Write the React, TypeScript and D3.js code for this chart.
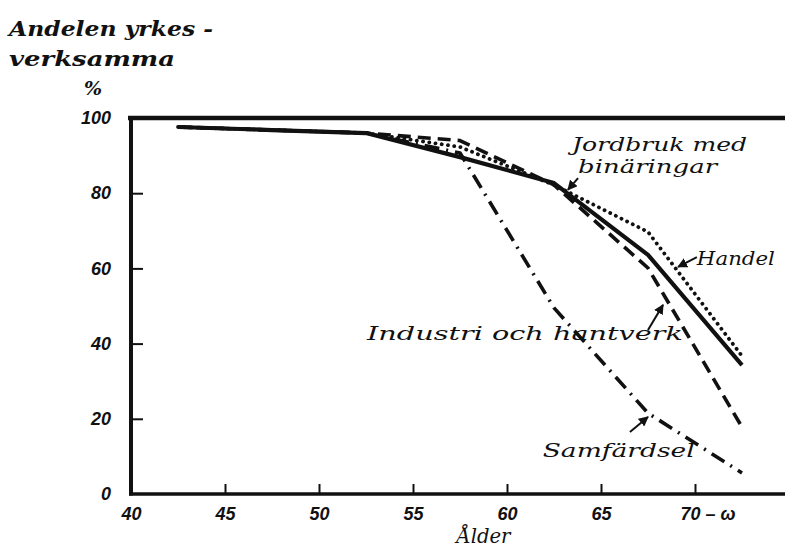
import React, { useEffect, useRef } from "react";
import * as d3 from "d3";

// age group midpoints (last group is 70 - ω)
const ages = [42.5, 47.5, 52.5, 57.5, 62.5, 67.5, 72.5];

// share of economically active, %
const jordbruk = [97.6, 96.8, 96.0, 89.6, 82.7, 63.6, 34.3];
const handel = [97.6, 96.8, 96.0, 92.3, 82.2, 69.7, 36.7];
const industri = [97.6, 96.8, 96.0, 94.0, 82.2, 60.1, 17.8];
const samfardsel = [97.6, 96.8, 96.0, 90.7, 49.5, 21.5, 5.6];

const xTicks = [40, 45, 50, 55, 60, 65, 70];
const yTicks = [0, 20, 40, 60, 80, 100];

const W = 785;
const H = 549;

const App: React.FC = () => {
    const svgRef = useRef<SVGSVGElement>(null);

    useEffect(() => {
        if (!svgRef.current) return;
        const svg = d3.select(svgRef.current);
        svg.selectAll("*").remove();

        const x = d3.scaleLinear().domain([40, 70]).range([131, 695]);
        const y = d3.scaleLinear().domain([0, 100]).range([494, 118]);

        const numFont = "'Liberation Sans', sans-serif";
        const txtFont = "'DejaVu Serif', serif";

        // arrow head
        svg.append("defs")
            .append("marker")
            .attr("id", "arr")
            .attr("viewBox", "0 0 10 10")
            .attr("refX", 9)
            .attr("refY", 5)
            .attr("markerWidth", 5)
            .attr("markerHeight", 5)
            .attr("orient", "auto")
            .append("path")
            .attr("d", "M0,0 L10,5 L0,10 Z")
            .attr("fill", "#111");

        // y axis ticks (inward)
        const ya = svg
            .append("g")
            .attr("transform", `translate(${x(40)},0)`)
            .call(
                d3
                    .axisLeft(y)
                    .tickValues(yTicks)
                    .tickSizeInner(-12)
                    .tickSizeOuter(0)
                    .tickPadding(20)
            );
        ya.select(".domain").remove();
        ya.selectAll(".tick line")
            .attr("stroke", "#111")
            .attr("stroke-width", 2)
            .filter((d: any) => d === 0 || d === 100)
            .remove();
        ya.selectAll(".tick text")
            .attr("font-family", numFont)
            .attr("font-style", "italic")
            .attr("font-weight", "bold")
            .attr("font-size", 18)
            .attr("fill", "#111");

        // x axis ticks (upward)
        const xa = svg
            .append("g")
            .attr("transform", `translate(0,${y(0)})`)
            .call(
                d3
                    .axisBottom(x)
                    .tickValues(xTicks)
                    .tickSizeInner(-10)
                    .tickSizeOuter(0)
                    .tickPadding(13)
                    .tickFormat((d: any) => (d === 70 ? "70 – ω" : String(d)))
            );
        xa.select(".domain").remove();
        xa.selectAll(".tick line")
            .attr("stroke", "#111")
            .attr("stroke-width", 2)
            .filter((d: any) => d === 40)
            .remove();
        xa.selectAll(".tick text")
            .attr("font-family", numFont)
            .attr("font-style", "italic")
            .attr("font-weight", "bold")
            .attr("font-size", 18)
            .attr("fill", "#111");
        xa.selectAll(".tick text")
            .filter((d: any) => d === 70)
            .attr("text-anchor", "start")
            .attr("x", -15);

        // frame: top, left, bottom
        const frame = svg.append("g").attr("stroke", "#111").attr("fill", "none");
        frame
            .append("line")
            .attr("x1", x(40) - 3)
            .attr("x2", W)
            .attr("y1", y(100))
            .attr("y2", y(100))
            .attr("stroke-width", 4.5);
        frame
            .append("line")
            .attr("x1", x(40))
            .attr("x2", x(40))
            .attr("y1", y(100) - 2)
            .attr("y2", y(0) + 1.5)
            .attr("stroke-width", 4);
        frame
            .append("line")
            .attr("x1", x(40) - 2)
            .attr("x2", W)
            .attr("y1", y(0))
            .attr("y2", y(0))
            .attr("stroke-width", 3.5);

        // series
        const line = d3
            .line<number>()
            .x((_, i) => x(ages[i]))
            .y((d) => y(d));

        const series = [
            { values: samfardsel, dash: "15 7 2 7", width: 3.6, cap: "butt" },
            { values: industri, dash: "13 7", width: 3.6, cap: "butt" },
            { values: handel, dash: "0.1 6.2", width: 3.8, cap: "round" },
            { values: jordbruk, dash: null, width: 4.2, cap: "butt" },
        ];
        series.forEach((s) => {
            svg.append("path")
                .datum(s.values)
                .attr("fill", "none")
                .attr("stroke", "#111")
                .attr("stroke-width", s.width)
                .attr("stroke-linecap", s.cap)
                .attr("stroke-linejoin", "round")
                .attr("stroke-dasharray", s.dash)
                .attr("d", line);
        });

        // labels
        const labels = [
            { t: "Jordbruk med", a: 63.46, v: 91.2, w: 175 },
            { t: "binäringar", a: 63.78, v: 85.4, w: 139 },
            { t: "Handel", a: 70.1, v: 60.9, w: 78 },
            { t: "Industri och hantverk", a: 52.55, v: 41.0, w: 316 },
            { t: "Samfärdsel", a: 61.9, v: 9.8, w: 152 },
        ];
        svg.append("g")
            .selectAll("text")
            .data(labels)
            .join("text")
            .attr("x", (d) => x(d.a))
            .attr("y", (d) => y(d.v))
            .attr("textLength", (d) => d.w)
            .attr("lengthAdjust", "spacingAndGlyphs")
            .attr("font-family", txtFont)
            .attr("font-style", "italic")
            .attr("font-size", 18)
            .attr("fill", "#111")
            .text((d) => d.t);

        const arrows = [
            { a1: 63.78, v1: 84.0, a2: 63.24, v2: 80.9 },
            { a1: 70.1, v1: 63.0, a2: 69.1, v2: 60.4 },
            { a1: 67.5, v1: 43.6, a2: 68.3, v2: 50.3 },
            { a1: 66.54, v1: 16.5, a2: 67.5, v2: 20.5 },
        ];
        svg.append("g")
            .selectAll("line")
            .data(arrows)
            .join("line")
            .attr("x1", (d) => x(d.a1))
            .attr("y1", (d) => y(d.v1))
            .attr("x2", (d) => x(d.a2))
            .attr("y2", (d) => y(d.v2))
            .attr("stroke", "#111")
            .attr("stroke-width", 2)
            .attr("marker-end", "url(#arr)");

        // axis titles
        const title = svg
            .append("g")
            .attr("font-family", txtFont)
            .attr("font-style", "italic")
            .attr("font-weight", "bold")
            .attr("font-size", 20)
            .attr("fill", "#111");
        title.append("text").attr("x", 9).attr("y", 36).attr("textLength", 204).attr("lengthAdjust", "spacingAndGlyphs").text("Andelen yrkes -");
        title.append("text").attr("x", 9).attr("y", 66).attr("textLength", 166).attr("lengthAdjust", "spacingAndGlyphs").text("verksamma");
        title.append("text").attr("x", 84).attr("y", 95).attr("font-size", 19).text("%");
        title
            .append("text")
            .attr("x", (x(57.5) + x(60)) / 2)
            .attr("y", 543)
            .attr("text-anchor", "middle")
            .attr("font-weight", "normal")
            .attr("textLength", 54)
            .attr("lengthAdjust", "spacingAndGlyphs")
            .text("Ålder");
    }, []);

    return (
        <div style={{ position: "absolute", left: 0, top: 0 }}>
            <svg ref={svgRef} width={W} height={H} style={{ display: "block", background: "#fff" }}></svg>
        </div>
    );
};

export default App;
